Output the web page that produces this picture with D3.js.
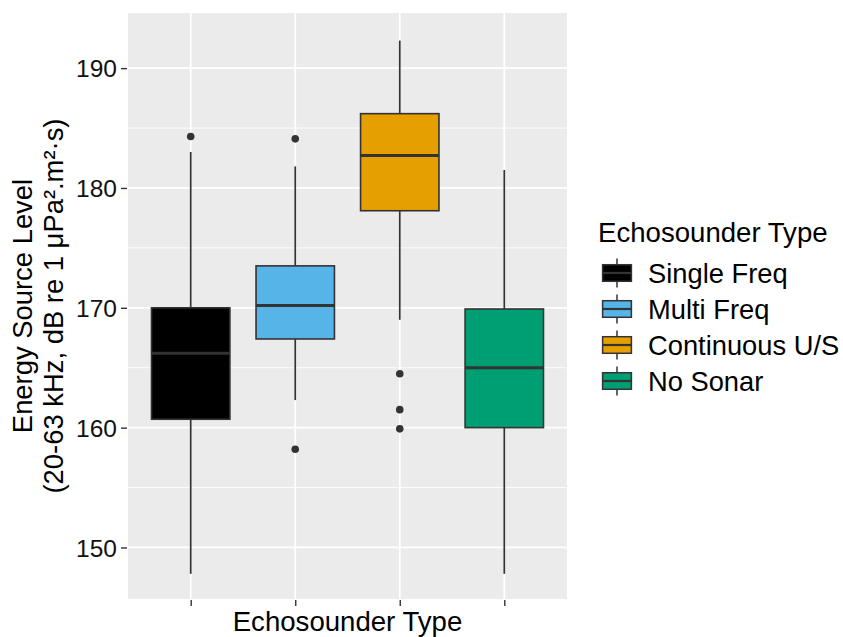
<!DOCTYPE html>
<html>
<head>
<meta charset="utf-8">
<script src="https://cdn.jsdelivr.net/npm/d3@7"></script>
<style>
  body { margin: 0; background: #fff; }
  text { font-family: "Liberation Sans", Arial, sans-serif; }
</style>
</head>
<body>
<script>
// categories and colours
var categories = ["Single Freq", "Multi Freq", "Continuous U/S", "No Sonar"];
var colors = ["#000000", "#56B4E9", "#E69F00", "#009E73"];

// box statistics
var whiskerLow  = [147.8, 162.3, 169.0, 147.8];
var q1          = [160.7, 167.4, 178.1, 160.0];
var median      = [166.2, 170.2, 182.7, 165.0];
var q3          = [170.0, 173.5, 186.2, 169.9];
var whiskerHigh = [183.0, 181.8, 192.3, 181.5];
var outliers    = [[184.3], [184.1, 158.2], [164.5, 161.5, 159.9], []];

var yTicks = [150, 160, 170, 180, 190];
var yMinor = [155, 165, 175, 185];

var svgWidth = 843;
var svgHeight = 637;

var panel = { left: 128, right: 567, top: 13, bottom: 599 };

var svg = d3.select("body")
    .append("svg")
    .attr("width", svgWidth)
    .attr("height", svgHeight);

var x = d3.scalePoint()
    .domain(categories)
    .range([panel.left, panel.right])
    .padding(0.6);

var y = d3.scaleLinear()
    .domain([145.7, 194.6])
    .range([panel.bottom, panel.top]);

var boxW = x.step() * 0.75;

// panel background
svg.append("rect")
    .attr("x", panel.left)
    .attr("y", panel.top)
    .attr("width", panel.right - panel.left)
    .attr("height", panel.bottom - panel.top)
    .attr("fill", "#EBEBEB");

// grid
svg.selectAll(".minor")
    .data(yMinor)
    .enter()
    .append("line")
    .attr("x1", panel.left).attr("x2", panel.right)
    .attr("y1", d => y(d)).attr("y2", d => y(d))
    .attr("stroke", "#fff").attr("stroke-width", 0.9);

svg.selectAll(".major")
    .data(yTicks)
    .enter()
    .append("line")
    .attr("x1", panel.left).attr("x2", panel.right)
    .attr("y1", d => y(d)).attr("y2", d => y(d))
    .attr("stroke", "#fff").attr("stroke-width", 1.8);

svg.selectAll(".vgrid")
    .data(categories)
    .enter()
    .append("line")
    .attr("x1", d => x(d)).attr("x2", d => x(d))
    .attr("y1", panel.top).attr("y2", panel.bottom)
    .attr("stroke", "#fff").attr("stroke-width", 1.8);

// axes
var leftaxis = d3.axisLeft(y).tickValues(yTicks).tickSize(6).tickPadding(4);
var bottomaxis = d3.axisBottom(x).tickSize(6).tickFormat("");

var gy = svg.append("g")
    .attr("transform", `translate(${panel.left - 1}, 0)`)
    .call(leftaxis);
gy.select(".domain").remove();
gy.selectAll("line").attr("stroke", "#333").attr("stroke-width", 1.4);
gy.selectAll("text")
    .attr("fill", "#111")
    .style("font-size", "24.5px")
    .attr("dy", "0.36em");

var gx = svg.append("g")
    .attr("transform", `translate(0, ${panel.bottom + 1})`)
    .call(bottomaxis);
gx.select(".domain").remove();
gx.selectAll("line").attr("stroke", "#333").attr("stroke-width", 1.4);

// boxes
var boxes = svg.selectAll(".box")
    .data(categories)
    .enter()
    .append("g");

boxes.append("line")
    .attr("x1", d => x(d)).attr("x2", d => x(d))
    .attr("y1", (d, i) => y(q3[i])).attr("y2", (d, i) => y(whiskerHigh[i]))
    .attr("stroke", "#333").attr("stroke-width", 1.7);

boxes.append("line")
    .attr("x1", d => x(d)).attr("x2", d => x(d))
    .attr("y1", (d, i) => y(q1[i])).attr("y2", (d, i) => y(whiskerLow[i]))
    .attr("stroke", "#333").attr("stroke-width", 1.7);

boxes.append("rect")
    .attr("x", d => x(d) - boxW / 2)
    .attr("width", boxW)
    .attr("y", (d, i) => y(q3[i]))
    .attr("height", (d, i) => y(q1[i]) - y(q3[i]))
    .attr("fill", (d, i) => colors[i])
    .attr("stroke", "#333").attr("stroke-width", 1.6);

boxes.append("line")
    .attr("x1", d => x(d) - boxW / 2).attr("x2", d => x(d) + boxW / 2)
    .attr("y1", (d, i) => y(median[i])).attr("y2", (d, i) => y(median[i]))
    .attr("stroke", "#333").attr("stroke-width", 3);

boxes.selectAll("circle")
    .data((d, i) => outliers[i].map(v => ({ cat: d, v: v })))
    .enter()
    .append("circle")
    .attr("cx", d => x(d.cat))
    .attr("cy", d => y(d.v))
    .attr("r", 3.8)
    .attr("fill", "#333");

// axis titles
svg.append("text")
    .attr("x", (panel.left + panel.right) / 2)
    .attr("y", 631)
    .attr("text-anchor", "middle")
    .style("font-size", "27.6px")
    .attr("fill", "#000")
    .text("Echosounder Type");

var ytitle = svg.append("text")
    .attr("transform", `translate(0, ${(panel.top + panel.bottom) / 2}) rotate(-90)`)
    .attr("text-anchor", "middle")
    .style("font-size", "27.4px")
    .attr("fill", "#000");
ytitle.append("tspan").attr("x", 0).attr("y", 32).text("Energy Source Level");
ytitle.append("tspan").attr("x", 0).attr("y", 63).text("(20-63 kHz, dB re 1 \u03bcPa\u00b2.m\u00b2\u00b7s)");

// legend
var legend = svg.append("g").attr("transform", "translate(598, 0)");

legend.append("text")
    .attr("x", 0).attr("y", 242)
    .style("font-size", "27.6px")
    .text("Echosounder Type");

var keySize = 36;
var keys = legend.selectAll(".key")
    .data(categories)
    .enter()
    .append("g")
    .attr("transform", (d, i) => `translate(1, ${255 + i * keySize})`);

keys.append("line")
    .attr("x1", keySize / 2).attr("x2", keySize / 2)
    .attr("y1", keySize * 0.1).attr("y2", keySize * 0.9)
    .attr("stroke", "#333").attr("stroke-width", 1.5);

keys.append("rect")
    .attr("x", keySize * 0.1).attr("width", keySize * 0.8)
    .attr("y", keySize * 0.27).attr("height", keySize * 0.46)
    .attr("fill", (d, i) => colors[i])
    .attr("stroke", "#333").attr("stroke-width", 1.5);

keys.append("line")
    .attr("x1", keySize * 0.1).attr("x2", keySize * 0.9)
    .attr("y1", keySize / 2).attr("y2", keySize / 2)
    .attr("stroke", "#333").attr("stroke-width", 2.2);

keys.append("text")
    .attr("x", 49).attr("y", keySize / 2)
    .attr("dy", "0.36em")
    .style("font-size", "27.3px")
    .text(d => d);
</script>
</body>
</html>
